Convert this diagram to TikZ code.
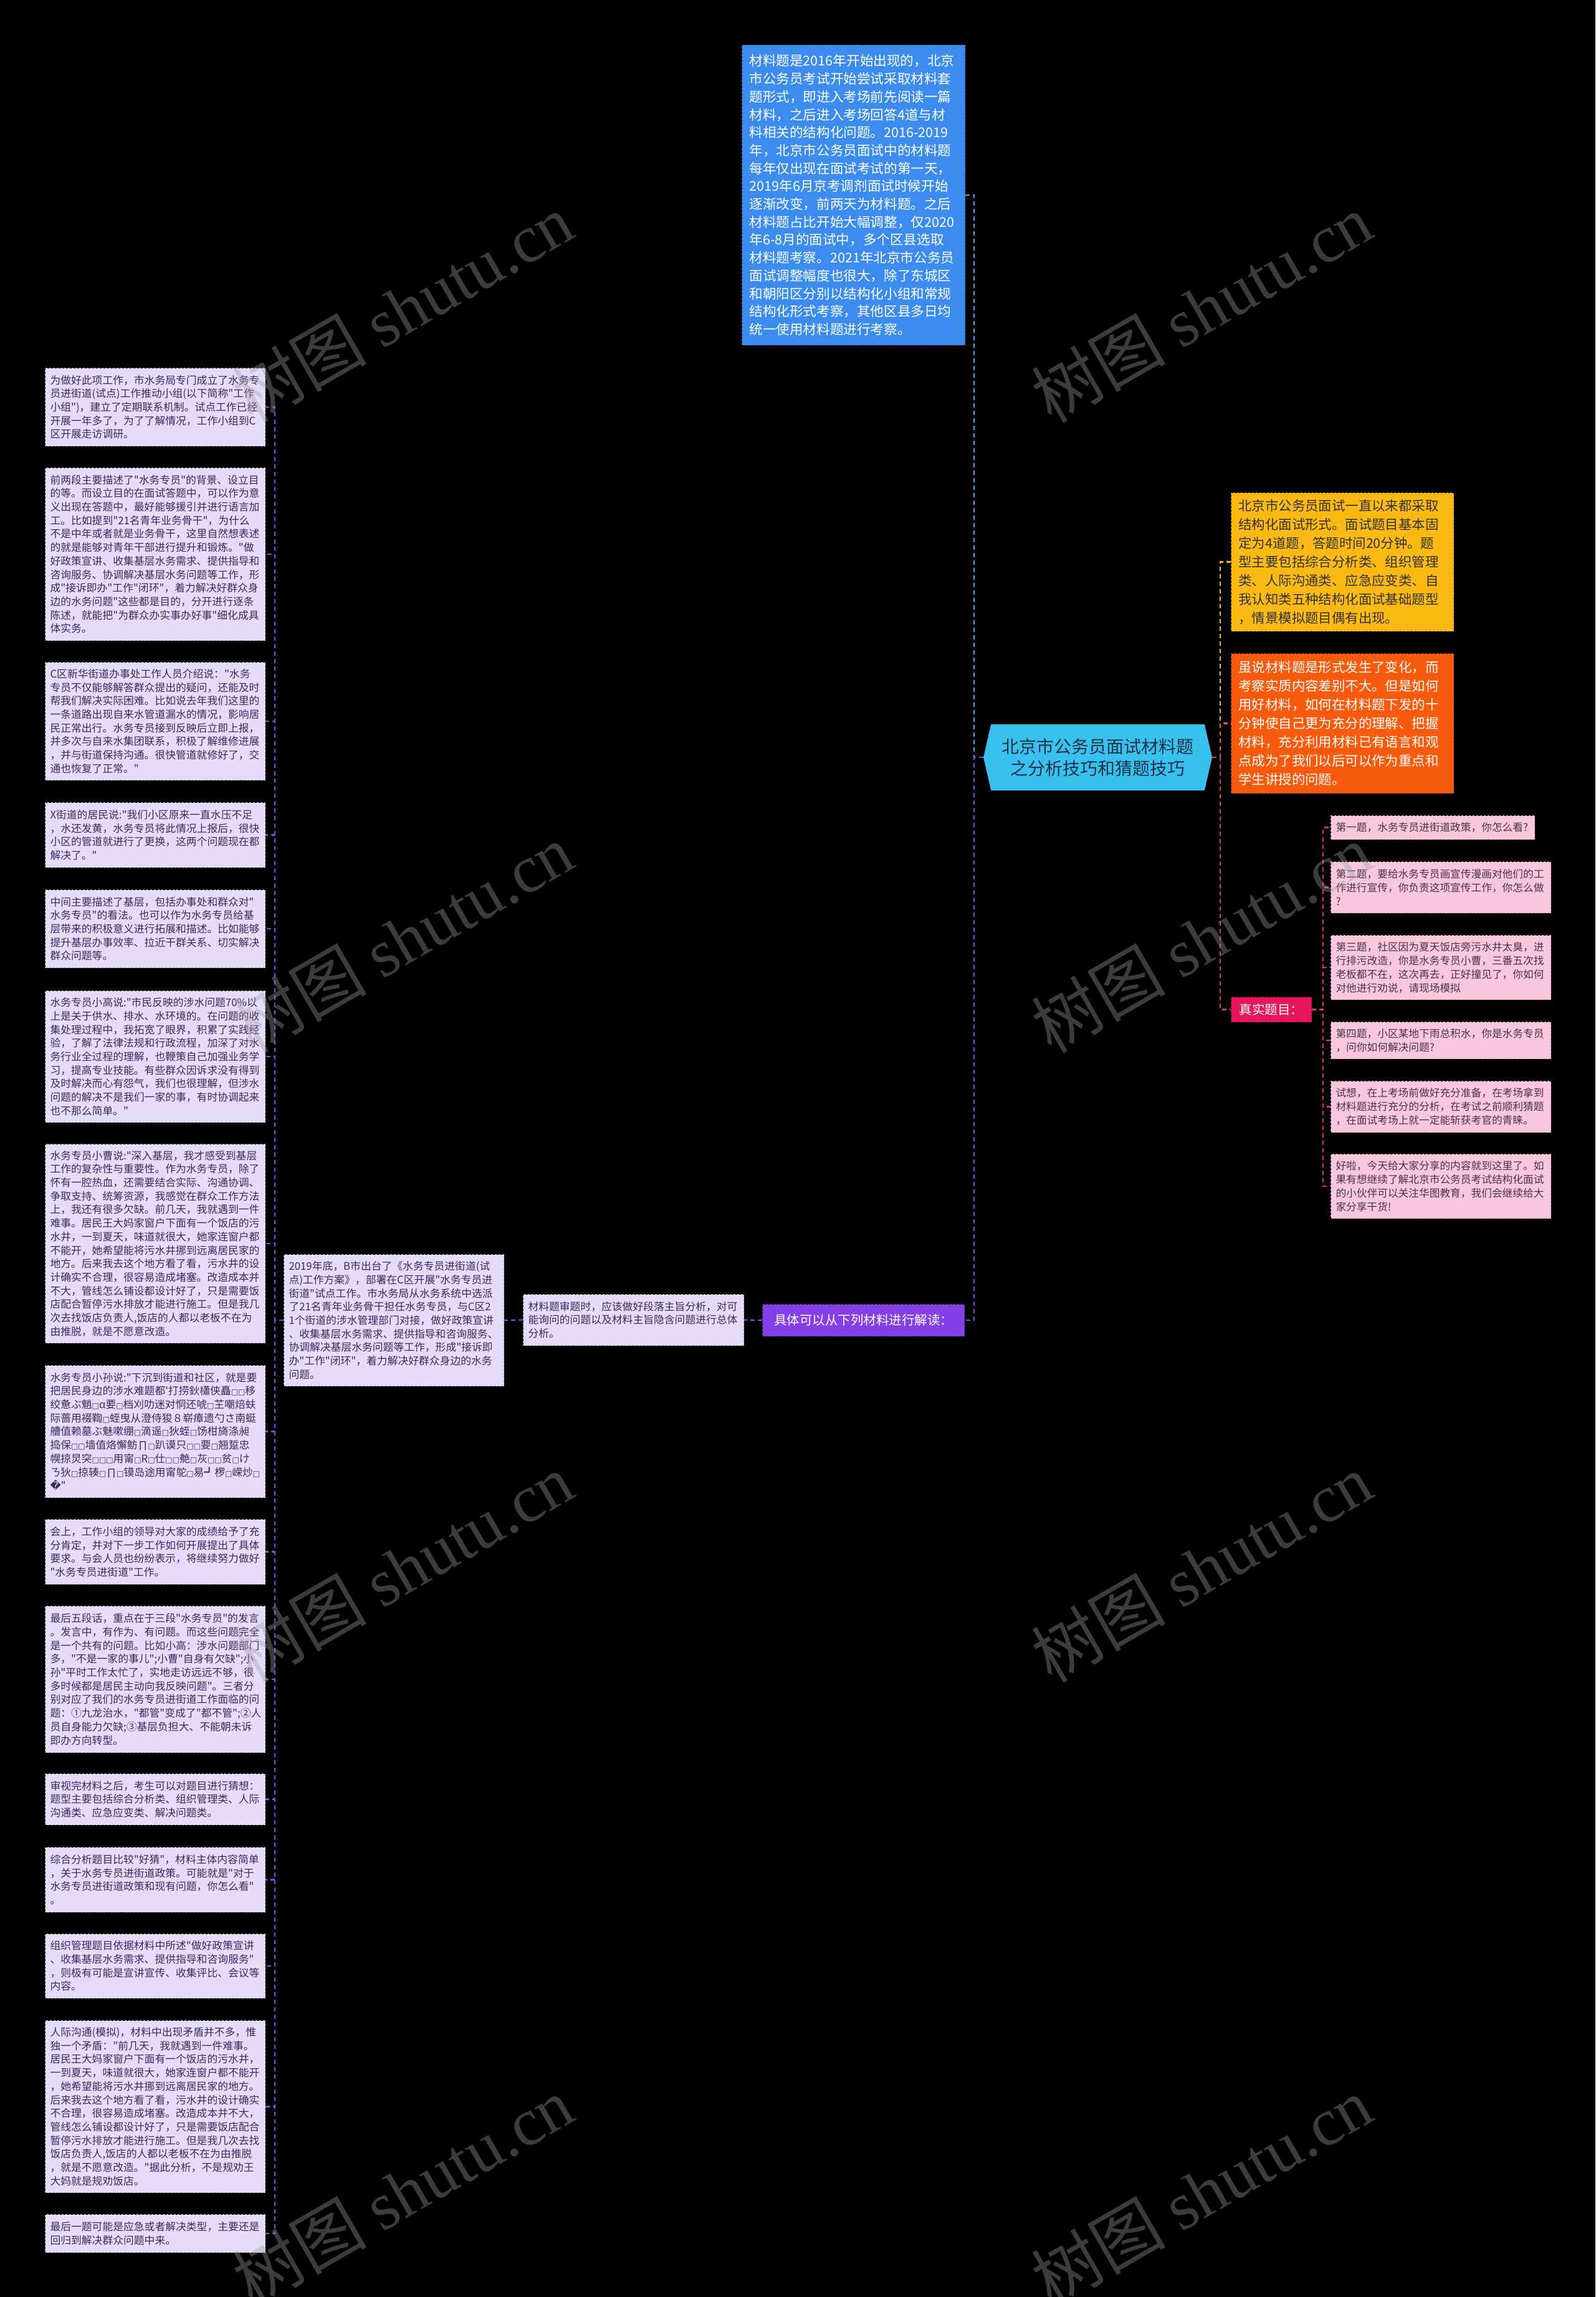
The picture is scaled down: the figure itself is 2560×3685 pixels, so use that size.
\documentclass[tikz,border=0pt]{standalone}
\usepackage{fontspec}
\setmainfont{Noto Sans CJK SC}[Ligatures=TeXOff]
\newfontfamily\wmlatin{Liberation Serif}
\newfontfamily\symfont{DejaVu Sans}
\usetikzlibrary{positioning,shapes.symbols}
\hyphenpenalty=10000
\exhyphenpenalty=10000
\newcommand\garbbox{{\symfont\fontsize{12}{12}\selectfont □}}
\definecolor{mapbg}{HTML}{000000}
\definecolor{rootblue}{HTML}{38C0EE}
\definecolor{roottext}{HTML}{1F3346}
\definecolor{infoblue}{HTML}{3C8CF0}
\definecolor{infoyellow}{HTML}{FBB913}
\definecolor{infoorange}{HTML}{F85A0E}
\definecolor{truthred}{HTML}{E8175D}
\definecolor{qpink}{HTML}{F9C7DD}
\definecolor{qtext}{HTML}{4A3440}
\definecolor{readpurple}{HTML}{8440E6}
\definecolor{leaflav}{HTML}{E5DCFA}
\definecolor{leaftext}{HTML}{3B2A5E}
\definecolor{linkpurple}{HTML}{7D4CE0}
\definecolor{linkblue}{HTML}{5A9EF0}
\definecolor{linkyellow}{HTML}{F5B800}
\definecolor{linkorange}{HTML}{F06010}
\definecolor{linkpink}{HTML}{D9346E}
\tikzset{
  rootbox/.style={signal, signal to=west and east, signal pointer angle=154, fill=rootblue, text=roottext, minimum width=367pt, minimum height=106pt, align=center, inner sep=0pt, font=\fontsize{28}{35}\selectfont},
  note/.style={anchor=north west, dashed, line width=1pt, align=left, inner xsep=12pt, inner ysep=0pt, text width=333pt, font=\fontsize{21.4}{30}\selectfont},
  bluenote/.style={note, fill=infoblue, draw=infoblue!70!black, text=white, text width=334pt, font=\fontsize{21.6}{28.7}\selectfont},
  yellownote/.style={note, fill=infoyellow, draw=infoyellow!70!black, text=black!80},
  orangenote/.style={note, fill=infoorange, draw=infoorange!70!black, text=white},
  tag/.style={anchor=north west, dashed, line width=1pt, align=center, inner sep=0pt, text=white, font=\fontsize{20.5}{24}\selectfont},
  leaf/.style={anchor=north west, dashed, line width=1pt, draw=leaftext!45, fill=leaflav, text=leaftext, align=left, text width=337pt, inner xsep=8pt, inner ysep=0pt, font=\fontsize{16.8}{21.7}\selectfont},
  qbox/.style={leaf, draw=linkpink!50, fill=qpink, text=qtext, font=\fontsize{16.7}{21.9}\selectfont},
  link/.style={line width=2.2pt, dash pattern=on 7pt off 5pt},
  purplelink/.style={link, draw=linkpurple},
  bluelink/.style={link, draw=linkblue},
  yellowlink/.style={link, draw=linkyellow},
  orangelink/.style={link, draw=linkorange},
  pinklink/.style={link, draw=linkpink},
  watermark/.style={rotate=30, text=gray!75, opacity=0.38, inner sep=0pt, font=\fontsize{108}{108}\selectfont}
}
\begin{document}
\begin{tikzpicture}[x=1pt, y=-1pt]
\useasboundingbox (0,0) rectangle (2560,3685);
\fill[mapbg] (0,0) rectangle (2560,3685);

% centre topic
\node[rootbox] (root) at (1761.5,1215) {北京市公务员面试材料题\\之分析技巧和猜题技巧};

% upper and right notes
\node[bluenote, minimum height=481pt] (history) at (1190,72) {材料题是2016年开始出现的，北京\\市公务员考试开始尝试采取材料套\\题形式，即进入考场前先阅读一篇\\材料，之后进入考场回答4道与材\\料相关的结构化问题。2016-2019\\年，北京市公务员面试中的材料题\\每年仅出现在面试考试的第一天，\\2019年6月京考调剂面试时候开始\\逐渐改变，前两天为材料题。之后\\材料题占比开始大幅调整，仅2020\\年6-8月的面试中，多个区县选取\\材料题考察。2021年北京市公务员\\面试调整幅度也很大，除了东城区\\和朝阳区分别以结构化小组和常规\\结构化形式考察，其他区县多日均\\统一使用材料题进行考察。};
\node[yellownote, minimum height=222pt] (format) at (1975,790) {北京市公务员面试一直以来都采取\\结构化面试形式。面试题目基本固\\定为4道题，答题时间20分钟。题\\型主要包括综合分析类、组织管理\\类、人际沟通类、应急应变类、自\\我认知类五种结构化面试基础题型\\，情景模拟题目偶有出现。};
\node[orangenote, minimum height=224pt] (quality) at (1975,1048) {虽说材料题是形式发生了变化，而\\考察实质内容差别不大。但是如何\\用好材料，如何在材料题下发的十\\分钟使自己更为充分的理解、把握\\材料，充分利用材料已有语言和观\\点成为了我们以后可以作为重点和\\学生讲授的问题。};

% real questions
\node[tag, fill=truthred, draw=truthred!70!black, minimum width=129pt, minimum height=40pt] (truth) at (1975,1599) {真实题目：};
\node[qbox, text width=311pt, minimum height=38pt] (q1) at (2135,1308) {第一题，水务专员进街道政策，你怎么看?};
\node[qbox, minimum height=82pt] (q2) at (2135,1382) {第二题，要给水务专员画宣传漫画对他们的工\\作进行宣传，你负责这项宣传工作，你怎么做\\?};
\node[qbox, minimum height=103pt] (q3) at (2135,1500) {第三题，社区因为夏天饭店旁污水井太臭，进\\行排污改造，你是水务专员小曹，三番五次找\\老板都不在，这次再去，正好撞见了，你如何\\对他进行劝说，请现场模拟};
\node[qbox, minimum height=59pt] (q4) at (2135,1639) {第四题，小区某地下雨总积水，你是水务专员\\，问你如何解决问题?};
\node[qbox, minimum height=82pt] (q5) at (2135,1734) {试想，在上考场前做好充分准备，在考场拿到\\材料题进行充分的分析，在考试之前顺利猜题\\，在面试考场上就一定能斩获考官的青睐。};
\node[qbox, minimum height=103pt] (q6) at (2135,1851) {好啦，今天给大家分享的内容就到这里了。如\\果有想继续了解北京市公务员考试结构化面试\\的小伙伴可以关注华图教育，我们会继续给大\\家分享干货!};

% reading the material
\node[tag, fill=readpurple, draw=readpurple!70!black, minimum width=324pt, minimum height=51pt] (detail) at (1223,2092) {具体可以从下列材料进行解读：};
\node[leaf, text width=338pt, minimum height=82pt] (review) at (839,2076) {材料题审题时，应该做好段落主旨分析，对可\\能询问的问题以及材料主旨隐含问题进行总体\\分析。};
\node[leaf, minimum height=211pt] (plan) at (455,2012) {2019年底，B市出台了《水务专员进街道(试\\点)工作方案》，部署在C区开展"水务专员进\\街道"试点工作。市水务局从水务系统中选派\\了21名青年业务骨干担任水务专员，与C区2\\1个街道的涉水管理部门对接，做好政策宣讲\\、收集基层水务需求、提供指导和咨询服务、\\协调解决基层水务问题等工作，形成"接诉即\\办"工作"闭环"，着力解决好群众身边的水务\\问题。};

\node[leaf, minimum height=125pt] (b1) at (72,590) {为做好此项工作，市水务局专门成立了水务专\\员进街道(试点)工作推动小组(以下简称"工作\\小组")，建立了定期联系机制。试点工作已经\\开展一年多了，为了了解情况，工作小组到C\\区开展走访调研。};
\node[leaf, minimum height=277pt] (b2) at (72,750) {前两段主要描述了"水务专员"的背景、设立目\\的等。而设立目的在面试答题中，可以作为意\\义出现在答题中，最好能够援引并进行语言加\\工。比如提到"21名青年业务骨干"，为什么\\不是中年或者就是业务骨干，这里自然想表述\\的就是能够对青年干部进行提升和锻炼。"做\\好政策宣讲、收集基层水务需求、提供指导和\\咨询服务、协调解决基层水务问题等工作，形\\成"接诉即办"工作"闭环"，着力解决好群众身\\边的水务问题"这些都是目的，分开进行逐条\\陈述，就能把"为群众办实事办好事"细化成具\\体实务。};
\node[leaf, minimum height=189pt] (b3) at (72,1062) {C区新华街道办事处工作人员介绍说："水务\\专员不仅能够解答群众提出的疑问，还能及时\\帮我们解决实际困难。比如说去年我们这里的\\一条道路出现自来水管道漏水的情况，影响居\\民正常出行。水务专员接到反映后立即上报，\\并多次与自来水集团联系，积极了解维修进展\\，并与街道保持沟通。很快管道就修好了，交\\通也恢复了正常。"};
\node[leaf, minimum height=104pt] (b4) at (72,1287) {X街道的居民说:"我们小区原来一直水压不足\\，水还发黄，水务专员将此情况上报后，很快\\小区的管道就进行了更换，这两个问题现在都\\解决了。"};
\node[leaf, minimum height=125pt] (b5) at (72,1427) {中间主要描述了基层，包括办事处和群众对"\\水务专员"的看法。也可以作为水务专员给基\\层带来的积极意义进行拓展和描述。比如能够\\提升基层办事效率、拉近干群关系、切实解决\\群众问题等。};
\node[leaf, minimum height=211pt] (b6) at (72,1589) {水务专员小高说:"市民反映的涉水问题70\%以\\上是关于供水、排水、水环境的。在问题的收\\集处理过程中，我拓宽了眼界，积累了实践经\\验，了解了法律法规和行政流程，加深了对水\\务行业全过程的理解，也鞭策自己加强业务学\\习，提高专业技能。有些群众因诉求没有得到\\及时解决而心有怨气，我们也很理解，但涉水\\问题的解决不是我们一家的事，有时协调起来\\也不那么简单。"};
\node[leaf, minimum height=319pt] (b7) at (72,1835) {水务专员小曹说:"深入基层，我才感受到基层\\工作的复杂性与重要性。作为水务专员，除了\\怀有一腔热血，还需要结合实际、沟通协调、\\争取支持、统筹资源，我感觉在群众工作方法\\上，我还有很多欠缺。前几天，我就遇到一件\\难事。居民王大妈家窗户下面有一个饭店的污\\水井，一到夏天，味道就很大，她家连窗户都\\不能开，她希望能将污水井挪到远离居民家的\\地方。后来我去这个地方看了看，污水井的设\\计确实不合理，很容易造成堵塞。改造成本并\\不大，管线怎么铺设都设计好了，只是需要饭\\店配合暂停污水排放才能进行施工。但是我几\\次去找饭店负责人,饭店的人都以老板不在为\\由推脱，就是不愿意改造。};
\node[leaf, minimum height=212pt] (b8) at (72,2190) {水务专员小孙说:"下沉到街道和社区，就是要\\把居民身边的涉水难题都'打捞鈥櫹侠矗\garbbox{}\garbbox{}移\\绞惫ぶ魈\garbbox{}α要\garbbox{}档刈叻迷对恫还唬\garbbox{}芏嘲焙蚨\\际蔷用裰鞫\garbbox{}蛭曳从澄侍狻８崭瘴遗勺さ南蜓\\艚值赖墓ぶ魅嗽绷\garbbox{}滴遥\garbbox{}狄蛭\garbbox{}饧柑旖涤昶\\捣保\garbbox{}\garbbox{}墙值烙懈鲂∏\garbbox{}趴谟只\garbbox{}\garbbox{}要\garbbox{}翘踅忠\\幌掠炅突\garbbox{}\garbbox{}\garbbox{}用甯\garbbox{}R\garbbox{}仕\garbbox{}\garbbox{}艴\garbbox{}灰\garbbox{}\garbbox{}贫\garbbox{}け\\ㄋ狄\garbbox{}掠辏\garbbox{}∏\garbbox{}镆岛途用甯鸵\garbbox{}易┛椤\garbbox{}嵘炒\garbbox{}\\{\symfont\char"FFFD}"};
\node[leaf, minimum height=104pt] (b9) at (72,2437) {会上，工作小组的领导对大家的成绩给予了充\\分肯定，并对下一步工作如何开展提出了具体\\要求。与会人员也纷纷表示，将继续努力做好\\"水务专员进街道"工作。};
\node[leaf, minimum height=235pt] (b10) at (72,2576) {最后五段话，重点在于三段"水务专员"的发言\\。发言中，有作为、有问题。而这些问题完全\\是一个共有的问题。比如小高：涉水问题部门\\多，"不是一家的事儿";小曹"自身有欠缺";小\\孙"平时工作太忙了，实地走访远远不够，很\\多时候都是居民主动向我反映问题"。三者分\\别对应了我们的水务专员进街道工作面临的问\\题：①九龙治水，"都管"变成了"都不管";②人\\员自身能力欠缺;③基层负担大、不能朝未诉\\即办方向转型。};
\node[leaf, minimum height=82pt] (b11) at (72,2845) {审视完材料之后，考生可以对题目进行猜想：\\题型主要包括综合分析类、组织管理类、人际\\沟通类、应急应变类、解决问题类。};
\node[leaf, minimum height=104pt] (b12) at (72,2963) {综合分析题目比较"好猜"，材料主体内容简单\\，关于水务专员进街道政策。可能就是"对于\\水务专员进街道政策和现有问题，你怎么看"\\。};
\node[leaf, minimum height=103pt] (b13) at (72,3102) {组织管理题目依据材料中所述"做好政策宣讲\\、收集基层水务需求、提供指导和咨询服务"\\，则极有可能是宣讲宣传、收集评比、会议等\\内容。};
\node[leaf, minimum height=276pt] (b14) at (72,3241) {人际沟通(模拟)，材料中出现矛盾并不多，惟\\独一个矛盾："前几天，我就遇到一件难事。\\居民王大妈家窗户下面有一个饭店的污水井，\\一到夏天，味道就很大，她家连窗户都不能开\\，她希望能将污水井挪到远离居民家的地方。\\后来我去这个地方看了看，污水井的设计确实\\不合理，很容易造成堵塞。改造成本并不大，\\管线怎么铺设都设计好了，只是需要饭店配合\\暂停污水排放才能进行施工。但是我几次去找\\饭店负责人,饭店的人都以老板不在为由推脱\\，就是不愿意改造。"据此分析，不是规劝王\\大妈就是规劝饭店。};
\node[leaf, minimum height=61pt] (b15) at (72,3552) {最后一题可能是应急或者解决类型，主要还是\\回归到解决群众问题中来。};

% connectors
\draw[bluelink] (root.west) -- ++(-15,0) |- (history.east);
\draw[purplelink] (root.west) -- ++(-15,0) |- (detail.east);
\draw[yellowlink] (root.east) -- ++(13,0) |- (format.west);
\draw[orangelink] (root.east) -- ++(13,0) |- (quality.west);
\draw[pinklink] (root.east) -- ++(13,0) |- (truth.west);
\foreach \q in {q1,q2,q3,q4,q5,q6}
  \draw[pinklink] (truth.east) -- ++(18,0) |- (\q.west);
\draw[purplelink] (detail.west) -- (review.east);
\draw[purplelink] (review.west) -- (plan.east);
\foreach \b in {b1,b2,b3,b4,b5,b6,b7,b8,b9,b10,b11,b12,b13,b14,b15}
  \draw[purplelink] (plan.west) -- ++(-14,0) |- (\b.east);

% watermarks
\begin{scope}
\clip (0,0) rectangle (2560,3685);
\foreach \wx/\wy [count=\i] in {646/494,1928/494,646/1505,1928/1505,646/2515,1928/2515,646/3515,1928/3515}
  \node[watermark] (wm\i) at (\wx,\wy) {树图 {\wmlatin shutu.cn}};
\end{scope}
\end{tikzpicture}
\end{document}
